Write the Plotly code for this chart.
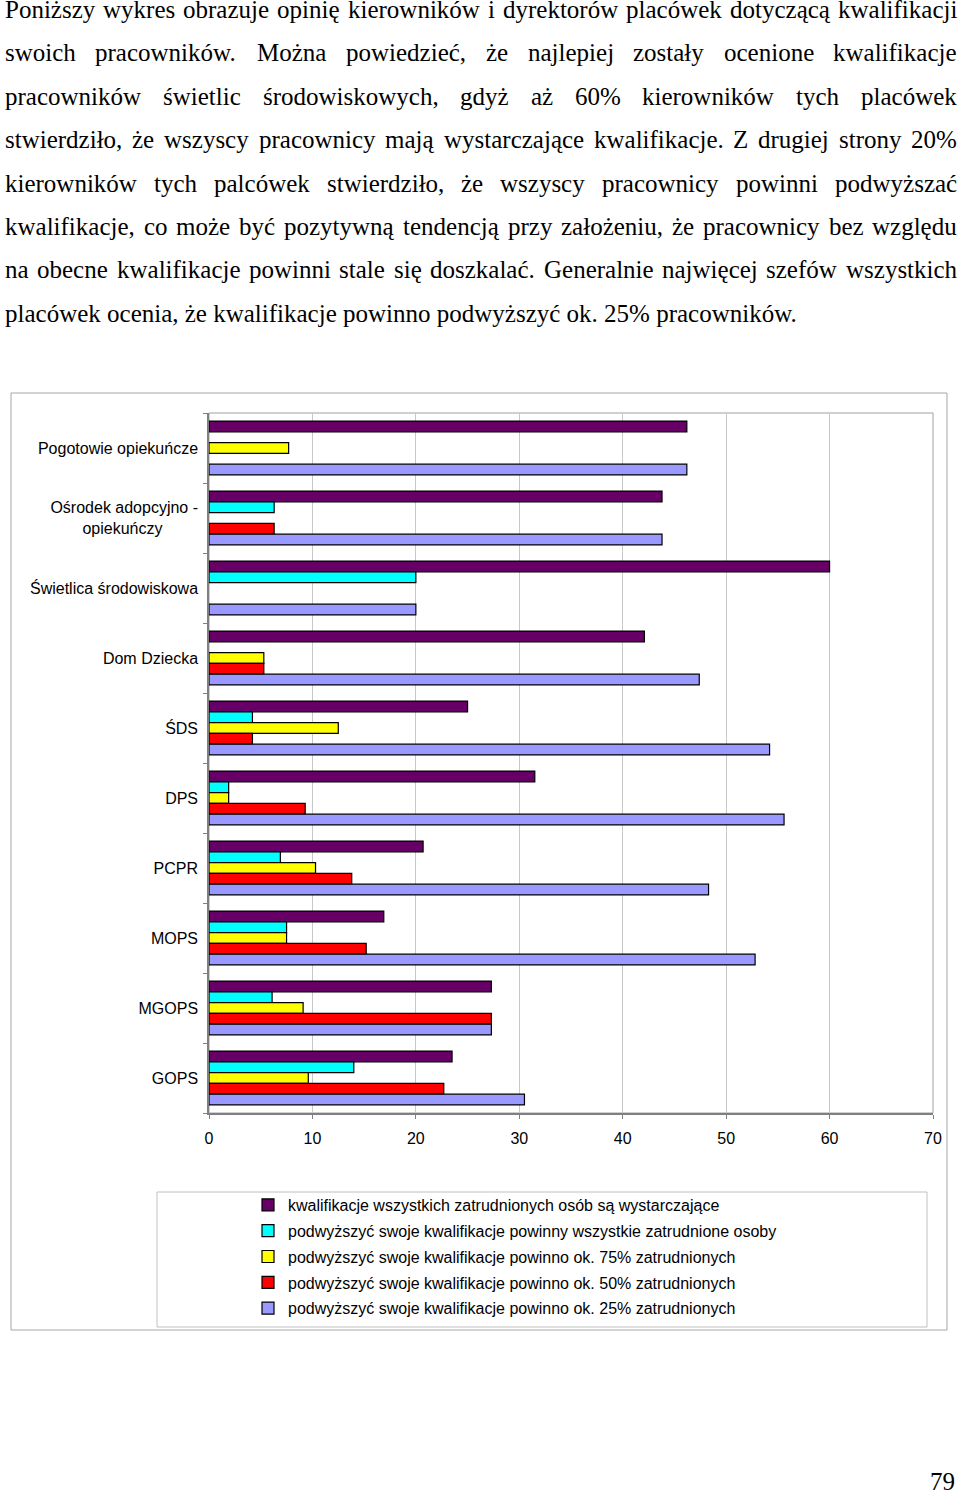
import plotly.graph_objects as go

# ---------------- data ----------------
categories = [
    "Pogotowie opiekuńcze",
    "Ośrodek adopcyjno - opiekuńczy",
    "Świetlica środowiskowa",
    "Dom Dziecka",
    "ŚDS",
    "DPS",
    "PCPR",
    "MOPS",
    "MGOPS",
    "GOPS",
]
NBSP = "\u00a0"
category_tick_labels = [
    "Pogotowie opiekuńcze",
    "Ośrodek adopcyjno -<br>opiekuńczy" + NBSP * 8,
    "Świetlica środowiskowa",
    "Dom Dziecka",
    "ŚDS",
    "DPS",
    "PCPR",
    "MOPS",
    "MGOPS",
    "GOPS",
]

series_names = [
    "kwalifikacje wszystkich zatrudnionych osób są wystarczające",
    "podwyższyć swoje kwalifikacje powinny wszystkie zatrudnione osoby",
    "podwyższyć swoje kwalifikacje powinno ok. 75% zatrudnionych",
    "podwyższyć swoje kwalifikacje powinno ok. 50% zatrudnionych",
    "podwyższyć swoje kwalifikacje powinno ok. 25% zatrudnionych",
]
all_sufficient = [46.2, 43.8, 60.0, 42.1, 25.0, 31.5, 20.7, 16.9, 27.3, 23.5]
all_should_upgrade = [None, 6.3, 20.0, None, 4.2, 1.9, 6.9, 7.5, 6.1, 14.0]
upgrade_75 = [7.7, None, None, 5.3, 12.5, 1.9, 10.3, 7.5, 9.1, 9.6]
upgrade_50 = [None, 6.3, None, 5.3, 4.2, 9.3, 13.8, 15.2, 27.3, 22.7]
upgrade_25 = [46.2, 43.8, 20.0, 47.4, 54.2, 55.6, 48.3, 52.8, 27.3, 30.5]
series_values = [all_sufficient, all_should_upgrade, upgrade_75, upgrade_50, upgrade_25]
series_colors = ["#660066", "#00FFFF", "#FFFF00", "#FF0000", "#9999FF"]

x_tick_values = [0, 10, 20, 30, 40, 50, 60, 70]

paragraph_lines = [
    "Poniższy wykres obrazuje opinię kierowników i dyrektorów placówek dotyczącą kwalifikacji",
    "swoich pracowników. Można powiedzieć, że najlepiej zostały ocenione kwalifikacje",
    "pracowników świetlic środowiskowych, gdyż aż 60% kierowników tych placówek",
    "stwierdziło, że wszyscy pracownicy mają wystarczające kwalifikacje. Z drugiej strony 20%",
    "kierowników tych palcówek stwierdziło, że wszyscy pracownicy powinni podwyższać",
    "kwalifikacje, co może być pozytywną tendencją przy założeniu, że pracownicy bez względu",
    "na obecne kwalifikacje powinni stale się doszkalać. Generalnie najwięcej szefów wszystkich",
    "placówek ocenia, że kwalifikacje powinno podwyższyć ok. 25% pracowników.",
]
page_number = "79"

# ---------------- layout geometry ----------------
W, H = 960, 1492
PL, PR, PT, PB = 209, 933, 413, 1113


def px_x(px):
    return (px - PL) / (PR - PL)


def px_y(py):
    return (PB - py) / (PB - PT)


SERIF = "Liberation Serif, Times New Roman, serif"
SANS = "Liberation Sans, Arial, sans-serif"

fig = go.Figure()
for name, vals, col in zip(series_names, series_values, series_colors):
    fig.add_trace(
        go.Bar(
            y=categories,
            x=vals,
            name=name,
            orientation="h",
            marker=dict(color=col, line=dict(color="#000000", width=1.2)),
            legendgroup=name,
        )
    )

# ---------------- justified paragraph ----------------
FS = 25
TW = {}
for ch in "bdghknopquvxyńó0123456789":
    TW[ch] = 0.5
for ch in "aceząćęźż":
    TW[ch] = 0.444
for ch in "ijltł":
    TW[ch] = 0.278
for ch in "fr-":
    TW[ch] = 0.333
for ch in "sś":
    TW[ch] = 0.389
TW.update({"m": 0.778, "w": 0.722, "P": 0.556, "M": 0.889, "G": 0.722, "Z": 0.611,
           "%": 0.833, ".": 0.25, ",": 0.25})


def word_w(w):
    return sum(TW.get(c, 0.5) for c in w) * FS


annotations = []
LEFT, RIGHT = 4, 956
for i, line in enumerate(paragraph_lines):
    cy = 9.5 + 43.4 * i
    if i == len(paragraph_lines) - 1:
        annotations.append(dict(text=line, x=px_x(LEFT), y=px_y(cy), xref="paper", yref="paper",
                                xanchor="left", yanchor="middle", showarrow=False, borderpad=0,
                                font=dict(family=SERIF, size=FS, color="#000")))
        continue
    words = line.split(" ")
    widths = [word_w(w) for w in words]
    gap = (RIGHT - LEFT - sum(widths)) / (len(words) - 1)
    x = LEFT
    for w, ww in zip(words, widths):
        annotations.append(dict(text=w, x=px_x(x), y=px_y(cy), xref="paper", yref="paper",
                                xanchor="left", yanchor="middle", showarrow=False, borderpad=0,
                                font=dict(family=SERIF, size=FS, color="#000")))
        x += ww + gap

annotations.append(dict(text=page_number, x=px_x(956), y=px_y(1481), xref="paper", yref="paper",
                        xanchor="right", yanchor="middle", showarrow=False, borderpad=0,
                        font=dict(family=SERIF, size=FS, color="#000")))

shapes = [
    # outer chart frame
    dict(type="rect", xref="paper", yref="paper", x0=px_x(11), x1=px_x(947), y0=px_y(393), y1=px_y(1330),
         line=dict(color="#a6a6a6", width=1), layer="below"),
    # legend box
    dict(type="rect", xref="paper", yref="paper", x0=px_x(157), x1=px_x(927), y0=px_y(1192), y1=px_y(1327),
         line=dict(color="#c0c0c0", width=1), layer="below"),
    # plot area border
    dict(type="rect", xref="paper", yref="paper", x0=0, x1=1, y0=0, y1=1,
         line=dict(color="#a0a0a0", width=1), layer="below"),
]

fig.update_layout(
    width=W,
    height=H,
    margin=dict(l=PL, r=W - PR, t=PT, b=H - PB, autoexpand=False),
    paper_bgcolor="white",
    plot_bgcolor="white",
    barmode="group",
    bargap=0.23,
    bargroupgap=0,
    font=dict(family=SANS, size=16, color="#000"),
    showlegend=True,
    legend=dict(
        x=px_x(248), y=px_y(1188), xanchor="left", yanchor="top",
        bgcolor="rgba(0,0,0,0)", borderwidth=0,
        font=dict(family=SANS, size=16, color="#000"),
        traceorder="grouped", tracegroupgap=2,
    ),
    annotations=annotations,
    shapes=shapes,
)
fig.update_xaxes(
    range=[0, 70], tickvals=x_tick_values, showgrid=True, gridcolor="#c8c8c8", gridwidth=1,
    zeroline=False, showline=True, linecolor="#808080", linewidth=1.5,
    ticks="outside", ticklen=4, tickcolor="#808080", ticklabelstandoff=6,
    tickfont=dict(family=SANS, size=16, color="#000"), fixedrange=True,
)
fig.update_yaxes(
    categoryorder="array", categoryarray=categories, autorange="reversed",
    tickvals=categories, ticktext=category_tick_labels,
    showgrid=False, zeroline=False, showline=True, linecolor="#808080", linewidth=1.5,
    ticks="outside", ticklen=4, tickcolor="#808080", tickson="boundaries", ticklabelstandoff=6,
    tickfont=dict(family=SANS, size=16, color="#000"), fixedrange=True,
)

fig.write_html(
    "out.html",
    config={"displayModeBar": False},
    post_script="document.body.style.margin='0';document.body.style.padding='0';",
)
